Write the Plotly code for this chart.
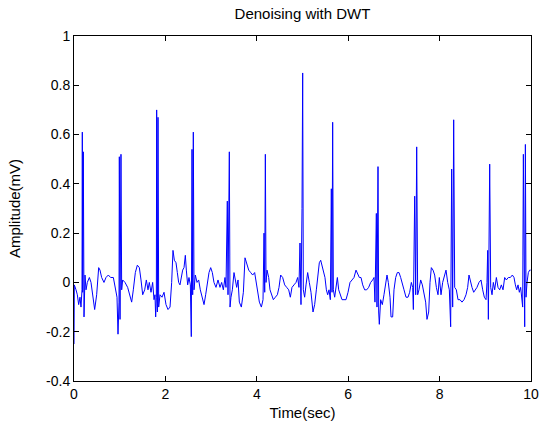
import plotly.graph_objects as go

time_sec = [
    0.0, 0.007, 0.044, 0.073, 0.102, 0.131, 0.153, 0.175, 0.182, 0.190, 0.204, 0.219, 0.241, 0.263, 0.292,
    0.336, 0.372, 0.408, 0.452, 0.496, 0.540, 0.569, 0.605, 0.656, 0.700, 0.751, 0.802, 0.861, 0.904, 0.941,
    0.963, 0.985, 0.992, 1.007, 1.028, 1.043, 1.065, 1.116, 1.174, 1.225, 1.262, 1.298, 1.342, 1.386, 1.430,
    1.466, 1.503, 1.547, 1.583, 1.619, 1.648, 1.685, 1.721, 1.751, 1.772, 1.787, 1.802, 1.809, 1.824, 1.838,
    1.853, 1.882, 1.926, 1.970, 2.013, 2.057, 2.101, 2.137, 2.166, 2.196, 2.232, 2.261, 2.290, 2.319, 2.349,
    2.378, 2.407, 2.436, 2.458, 2.487, 2.516, 2.546, 2.567, 2.582, 2.597, 2.611, 2.626, 2.655, 2.692, 2.728,
    2.764, 2.801, 2.845, 2.881, 2.918, 2.954, 2.991, 3.027, 3.063, 3.107, 3.151, 3.195, 3.231, 3.268, 3.304,
    3.326, 3.355, 3.370, 3.399, 3.414, 3.435, 3.465, 3.501, 3.530, 3.560, 3.589, 3.618, 3.662, 3.706, 3.742,
    3.779, 3.823, 3.866, 3.910, 3.953, 3.983, 4.019, 4.056, 4.100, 4.136, 4.158, 4.173, 4.187, 4.202, 4.224,
    4.260, 4.289, 4.326, 4.362, 4.406, 4.450, 4.486, 4.522, 4.566, 4.610, 4.654, 4.698, 4.734, 4.770, 4.814,
    4.858, 4.894, 4.923, 4.945, 4.967, 4.989, 5.004, 5.018, 5.047, 5.077, 5.113, 5.149, 5.186, 5.230, 5.266,
    5.303, 5.339, 5.368, 5.398, 5.427, 5.456, 5.492, 5.522, 5.551, 5.580, 5.609, 5.631, 5.646, 5.660, 5.675,
    5.704, 5.733, 5.763, 5.792, 5.828, 5.865, 5.908, 5.952, 5.996, 6.040, 6.084, 6.127, 6.171, 6.208, 6.244,
    6.280, 6.317, 6.360, 6.404, 6.448, 6.492, 6.535, 6.565, 6.586, 6.616, 6.630, 6.652, 6.667, 6.681, 6.710,
    6.747, 6.783, 6.820, 6.849, 6.878, 6.915, 6.937, 6.973, 7.002, 7.039, 7.075, 7.112, 7.148, 7.185, 7.221,
    7.265, 7.309, 7.345, 7.382, 7.411, 7.426, 7.455, 7.477, 7.499, 7.520, 7.549, 7.586, 7.622, 7.659, 7.695,
    7.724, 7.761, 7.790, 7.819, 7.856, 7.892, 7.929, 7.965, 7.994, 8.031, 8.067, 8.104, 8.140, 8.177, 8.213,
    8.242, 8.264, 8.286, 8.308, 8.330, 8.366, 8.403, 8.446, 8.490, 8.534, 8.578, 8.614, 8.643, 8.673, 8.709,
    8.746, 8.782, 8.818, 8.862, 8.906, 8.943, 8.979, 9.016, 9.037, 9.052, 9.067, 9.096, 9.118, 9.147, 9.176,
    9.205, 9.242, 9.278, 9.315, 9.351, 9.388, 9.424, 9.460, 9.504, 9.548, 9.592, 9.628, 9.658, 9.687, 9.716,
    9.745, 9.774, 9.804, 9.818, 9.833, 9.847, 9.862, 9.877, 9.891, 9.913, 9.942, 9.971, 9.993,
]

amplitude_mv = [
    -0.25, -0.01, -0.03, -0.05, -0.09, -0.06, -0.10, -0.03, 0.61, -0.04, 0.53, -0.14, 0.03, -0.03, 0.00,
    0.02, 0.00, -0.05, -0.11, -0.05, 0.06, 0.05, 0.02, 0.00, 0.02, 0.03, 0.02, 0.02, -0.02, -0.06,
    -0.21, -0.08, 0.51, -0.15, 0.52, -0.03, 0.01, 0.00, -0.02, -0.05, -0.08, -0.03, 0.04, 0.07, 0.06,
    0.01, -0.05, -0.03, 0.01, -0.03, 0.00, -0.04, 0.00, -0.07, -0.05, -0.14, -0.06, 0.70, -0.12, 0.67,
    -0.10, -0.05, -0.06, -0.04, -0.09, -0.11, -0.10, 0.00, 0.13, 0.09, 0.08, 0.04, 0.00, -0.01, 0.03,
    0.05, 0.06, 0.11, 0.05, -0.01, 0.02, -0.01, -0.22, 0.54, -0.05, 0.61, -0.03, 0.03, 0.00, 0.01,
    -0.03, -0.06, -0.09, -0.05, 0.00, 0.04, 0.06, 0.04, 0.00, -0.02, 0.01, -0.02, 0.00, -0.03, 0.02,
    -0.02, 0.33, -0.05, 0.53, -0.10, -0.06, -0.03, 0.04, 0.00, -0.02, 0.01, -0.08, -0.10, -0.04, 0.10,
    0.08, 0.05, 0.04, 0.03, 0.04, 0.00, -0.05, -0.08, -0.10, -0.07, 0.20, -0.04, 0.52, 0.00, 0.05,
    0.02, -0.03, -0.05, -0.07, -0.06, -0.05, -0.02, 0.03, 0.02, -0.01, -0.02, -0.03, -0.06, -0.02, -0.01,
    0.00, 0.02, -0.02, 0.16, -0.09, 0.30, 0.85, -0.03, -0.06, -0.01, 0.04, 0.00, -0.04, -0.12, -0.09,
    -0.03, 0.05, 0.08, 0.09, 0.07, 0.04, 0.02, -0.03, -0.05, -0.03, -0.07, 0.38, -0.04, 0.65, -0.03,
    -0.06, -0.02, 0.02, -0.03, -0.05, -0.07, -0.07, -0.07, -0.04, 0.00, 0.01, 0.02, 0.05, 0.03, 0.02,
    0.02, -0.01, -0.03, -0.03, -0.02, 0.00, 0.01, 0.02, -0.08, 0.28, -0.10, 0.47, -0.12, -0.17, -0.07,
    -0.09, -0.05, 0.00, 0.03, 0.00, -0.06, -0.14, -0.14, -0.03, 0.02, 0.04, 0.04, 0.02, -0.01, -0.03,
    -0.06, -0.06, -0.04, 0.00, -0.02, -0.11, 0.35, -0.05, 0.55, -0.05, -0.03, 0.01, -0.01, -0.05, -0.08,
    -0.15, -0.12, 0.00, 0.06, 0.05, 0.03, -0.02, -0.05, 0.02, -0.05, 0.00, 0.03, 0.05, 0.00, -0.03,
    -0.18, 0.46, -0.10, 0.66, -0.02, -0.03, -0.07, -0.07, -0.08, -0.07, -0.05, -0.02, 0.03, 0.00, -0.02,
    -0.04, -0.03, -0.02, 0.00, 0.01, -0.03, -0.06, -0.07, 0.00, 0.13, -0.15, 0.48, -0.02, -0.05, 0.00,
    -0.03, 0.02, -0.02, -0.03, -0.01, -0.03, 0.02, 0.01, 0.02, 0.02, 0.03, 0.02, -0.01, -0.03, -0.01,
    -0.04, -0.02, -0.06, -0.10, 0.52, -0.08, -0.18, 0.56, -0.06, 0.00, 0.04, 0.05, 0.05,
]

x_ticks = [0, 2, 4, 6, 8, 10]
y_ticks = [-0.4, -0.2, 0, 0.2, 0.4, 0.6, 0.8, 1]
y_tick_labels = ["-0.4", "-0.2", "0", "0.2", "0.4", "0.6", "0.8", "1"]

FONT = "Liberation Sans, Arial"

fig = go.Figure()
fig.add_trace(go.Scatter(
    x=time_sec, y=amplitude_mv, mode="lines",
    line=dict(color="#0000ff", width=1),
    showlegend=False,
))

axis_common = dict(
    showgrid=False, zeroline=False, showline=True, linecolor="#000000", linewidth=1,
    mirror="ticks", ticks="inside", ticklen=5, tickcolor="#000000", automargin=False,
    ticklabeloverflow="allow",
    tickfont=dict(family=FONT, size=14, color="#000000"),
)

fig.update_layout(
    width=539, height=431,
    margin=dict(l=74, r=8, t=36, b=50),
    paper_bgcolor="#ffffff", plot_bgcolor="#ffffff",
    title=dict(text="Denoising with DWT", x=0.5, xref="paper", xanchor="center",
               y=0.968, yanchor="middle",
               font=dict(family=FONT, size=15, color="#000000")),
    xaxis=dict(range=[0, 10], tickvals=x_ticks,
               title=dict(text="Time(sec)", standoff=6,
                          font=dict(family=FONT, size=15, color="#000000")),
               **axis_common),
    yaxis=dict(range=[-0.4, 1], tickvals=y_ticks, ticktext=y_tick_labels,
               title=dict(text="Amplitude(mV)", standoff=21,
                          font=dict(family=FONT, size=15, color="#000000")),
               **axis_common),
)

# remove the page's default body margin and scrollbars so the figure fills the window
fig.write_html(
    "out.html",
    config={"displayModeBar": False},
    post_script="document.documentElement.style.overflow='hidden';"
                "document.body.style.margin='0';document.body.style.overflow='hidden';",
)
